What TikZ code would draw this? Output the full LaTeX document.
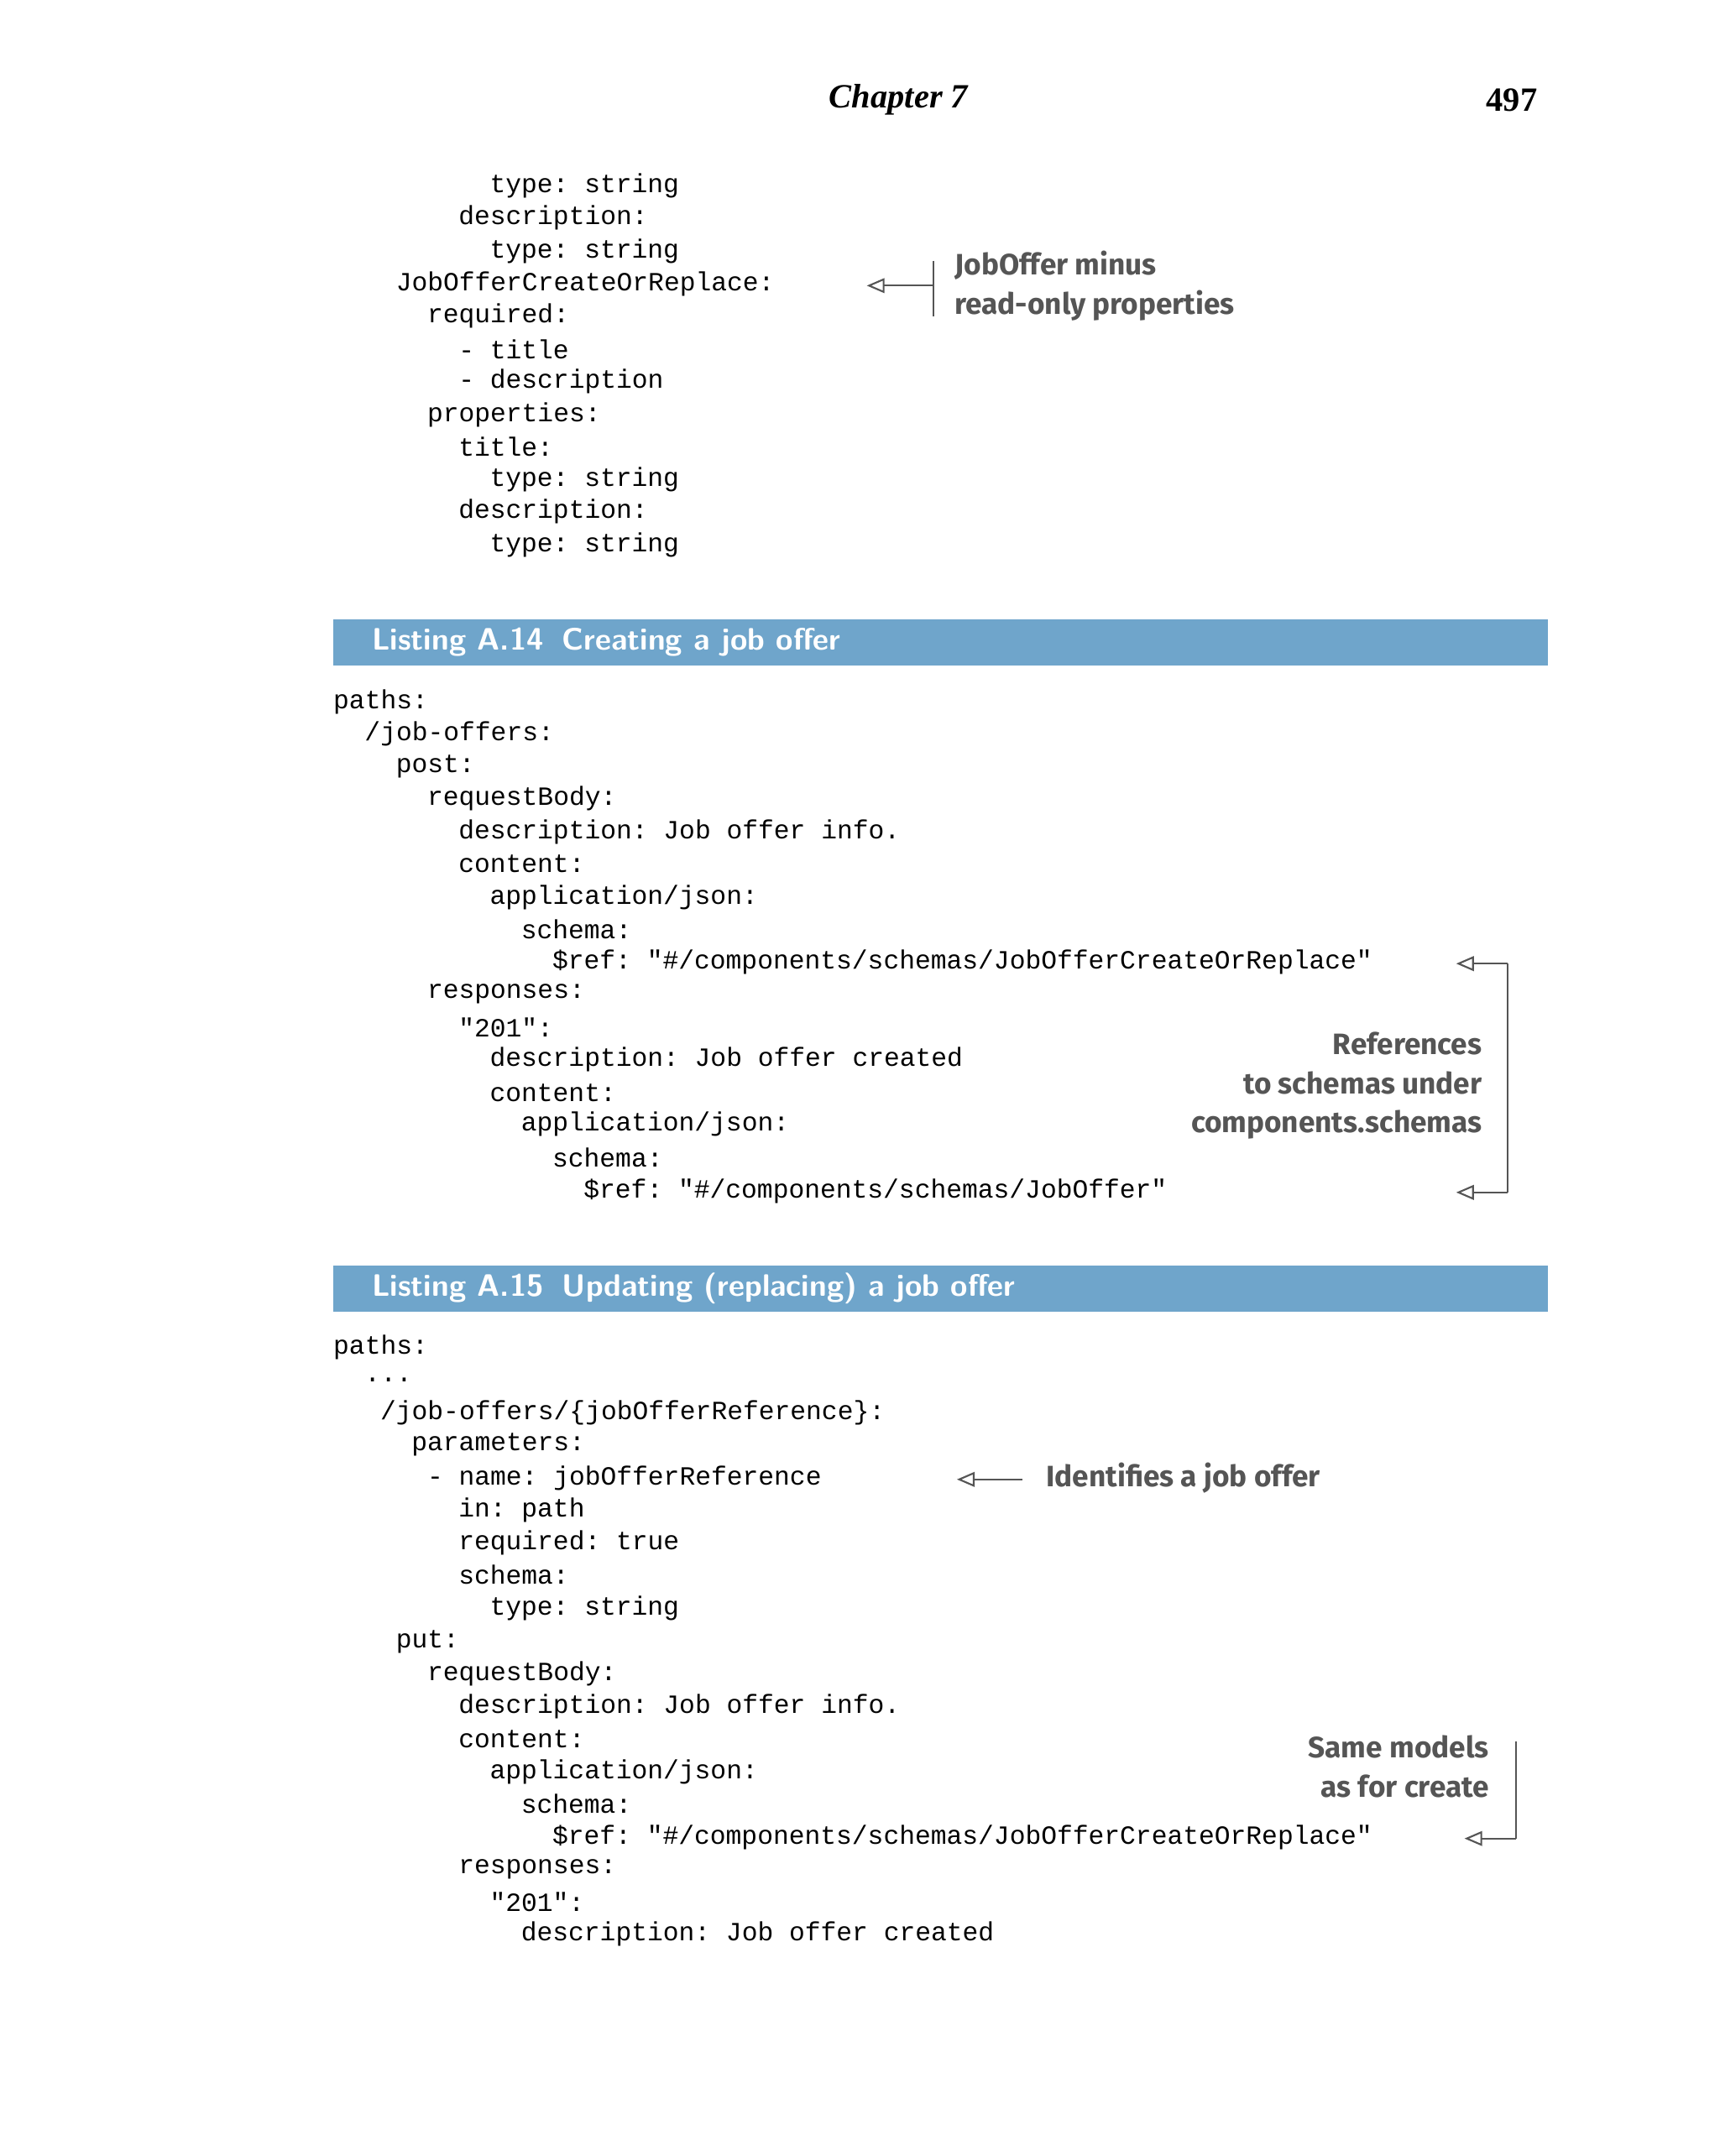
\documentclass[tikz,border=0pt]{standalone}
\usepackage{fontspec}
\setmainfont{Liberation Serif}
\setmonofont{Liberation Mono}
\newfontfamily\annfont{Fira Sans}
\usetikzlibrary{arrows.meta}
\definecolor{barblue}{HTML}{6FA5CB}
\definecolor{anngray}{HTML}{555555}
\begin{document}
\begin{tikzpicture}[x=0.016516cm,y=-0.016516cm,
  code/.style={anchor=west,inner sep=0pt,font=\ttfamily\fontsize{8.9}{11}\selectfont},
  ann/.style={inner sep=0pt,font=\annfont\bfseries\fontsize{10}{13.3}\selectfont,text=anngray},
  con/.style={draw=anngray,line width=0.6pt},
  arr/.style={con,-{Triangle[open,length=6pt,width=5pt]}},
  bar/.style={fill=barblue,draw=none},
  bartext/.style={anchor=west,inner sep=0pt,text=white,font=\sffamily\bfseries\fontsize{10.5}{12}\selectfont}]
\useasboundingbox (0,0) rectangle (1240,1555);
\node[anchor=center,font=\bfseries\itshape\fontsize{11.5}{13}\selectfont] (chap) at (648,72) {Chapter 7};
\node[anchor=east,font=\bfseries\fontsize{11.5}{13}\selectfont] (page) at (1116,72) {497};
\def\cw{11.28}
\newcommand\cl[4]{\node[code] (#1) at ({240+#2*\cw},#3) {#4};}
% block 1
\cl{a1}{10}{134}{type: string}
\cl{a2}{8}{157}{description:}
\cl{a3}{10}{181}{type: string}
\cl{a4}{4}{205}{JobOfferCreateOrReplace:}
\cl{a5}{6}{228}{required:}
\cl{a6}{8}{252}{- title}
\cl{a7}{8}{275}{- description}
\cl{a8}{6}{299}{properties:}
\cl{a9}{8}{322}{title:}
\cl{a10}{10}{346}{type: string}
\cl{a11}{8}{369}{description:}
\cl{a12}{10}{393}{type: string}
% listing A.14
\fill[bar] (240,447) rectangle (1116,480);
\node[bartext] (h1a) at (268,463) {Listing A.14};
\node[bartext] (h1b) at (405,463) {Creating a job offer};
\cl{b1}{0}{506}{paths:}
\cl{b2}{2}{529}{/job-offers:}
\cl{b3}{4}{553}{post:}
\cl{b4}{6}{576}{requestBody:}
\cl{b5}{8}{600}{description: Job offer info.}
\cl{b6}{8}{623}{content:}
\cl{b7}{10}{647}{application/json:}
\cl{b8}{12}{670}{schema:}
\cl{b9}{14}{694}{\$ref: "\#/components/schemas/JobOfferCreateOrReplace"}
\cl{b10}{6}{717}{responses:}
\cl{b11}{8}{741}{"201":}
\cl{b12}{10}{764}{description: Job offer created}
\cl{b13}{10}{788}{content:}
\cl{b14}{12}{811}{application/json:}
\cl{b15}{14}{835}{schema:}
\cl{b16}{16}{859}{\$ref: "\#/components/schemas/JobOffer"}
% listing A.15
\fill[bar] (240,913) rectangle (1116,946);
\node[bartext] (h2a) at (268,929) {Listing A.15};
\node[bartext] (h2b) at (405,929) {Updating (replacing) a job offer};
\cl{c1}{0}{972}{paths:}
\cl{c2}{2}{995}{...}
\cl{c3}{3}{1019}{/job-offers/\{jobOfferReference\}:}
\cl{c4}{5}{1042}{parameters:}
\cl{c5}{6}{1066}{- name: jobOfferReference}
\cl{c6}{8}{1089}{in: path}
\cl{c7}{8}{1113}{required: true}
\cl{c8}{8}{1136}{schema:}
\cl{c9}{10}{1160}{type: string}
\cl{c10}{4}{1184}{put:}
\cl{c11}{6}{1207}{requestBody:}
\cl{c12}{8}{1231}{description: Job offer info.}
\cl{c13}{8}{1254}{content:}
\cl{c14}{10}{1278}{application/json:}
\cl{c15}{12}{1301}{schema:}
\cl{c16}{14}{1325}{\$ref: "\#/components/schemas/JobOfferCreateOrReplace"}
\cl{c17}{8}{1348}{responses:}
\cl{c18}{10}{1372}{"201":}
\cl{c19}{12}{1395}{description: Job offer created}
% annotation 1
\node[ann,anchor=west,align=left] (n1) at (688,206) {JobOffer minus\\read-only properties};
\coordinate (p1t) at (673,188); \coordinate (p1b) at (673,228);
\coordinate (p1m) at (673,206); \coordinate (p1e) at (625,206);
\draw[con] (p1t) -- (p1b);
\draw[arr] (p1m) -- (p1e);
% annotation 2
\node[ann,anchor=east,align=right] (n2) at (1069,783) {References\\to schemas under\\components.schemas};
\coordinate (q1) at (1087,695); \coordinate (q2) at (1087,860);
\coordinate (q1e) at (1050,695); \coordinate (q2e) at (1050,860);
\draw[con] (q1) -- (q2);
\draw[arr] (q1) -- (q1e);
\draw[arr] (q2) -- (q2e);
% annotation 3
\node[ann,anchor=west] (n3) at (754,1066) {Identifies a job offer};
\coordinate (r1) at (737,1067); \coordinate (r1e) at (690,1067);
\draw[arr] (r1) -- (r1e);
% annotation 4
\node[ann,anchor=east,align=right] (n4) at (1074,1274) {Same models\\as for create};
\coordinate (s1) at (1093,1256); \coordinate (s2) at (1093,1326);
\coordinate (s2e) at (1056,1326);
\draw[con] (s1) -- (s2);
\draw[arr] (s2) -- (s2e);
\end{tikzpicture}
\end{document}
